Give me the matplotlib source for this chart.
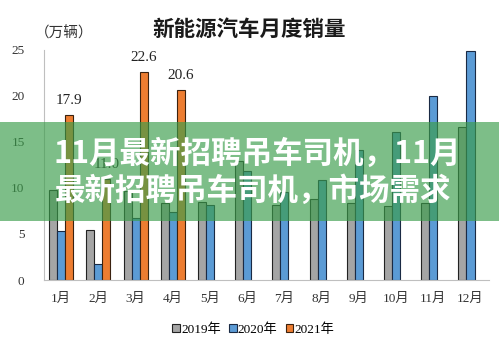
import matplotlib.pyplot as plt
import matplotlib.patches as mpatches
import numpy as np

plt.rcParams['font.family'] = ['Liberation Serif', 'Noto Sans CJK SC', 'DejaVu Sans']

months = ['1月', '2月', '3月', '4月', '5月', '6月', '7月', '8月', '9月', '10月', '11月', '12月']
sales_2019 = [9.8, 5.4, 9.7, 8.4, 8.5, 12.9, 8.1, 8.8, 8.4, 8.0, 8.4, 16.6]
sales_2020 = [5.3, 1.7, 6.7, 7.4, 8.2, 11.8, 9.6, 10.9, 14.1, 16.1, 20.0, 24.9]
sales_2021 = [17.9, 11.0, 22.6, 20.6]
series_names = ['2019年', '2020年', '2021年']
colors = ['#a5a5a5', '#5b9bd5', '#ed7d31']

fig = plt.figure(figsize=(4.99, 3.45), dpi=100)
ax = fig.add_axes([0.0882, 0.1884, 0.892, 0.6667])

x = np.arange(len(months))
w = 0.216
ax.bar(x - w, sales_2019, w, color=colors[0], edgecolor='#222222', linewidth=0.8, label=series_names[0])
ax.bar(x, sales_2020, w, color=colors[1], edgecolor='#1a2a44', linewidth=0.8, label=series_names[1])
x21 = np.arange(len(sales_2021))
ax.bar(x21 + w, sales_2021, w, color=colors[2], edgecolor='#3a2210', linewidth=0.8, label=series_names[2])
for xi, v in zip(x21, sales_2021):
    ax.text(xi + w, v + 0.9, f'{v:.1f}', ha='center', va='bottom', fontsize=11, color='#222222')

ax.set_xlim(-0.46, 11.5)
ax.set_ylim(0, 25)
ax.set_yticks([0, 5, 10, 15, 20, 25])
ax.set_xticks(x)
ax.set_xticklabels(months)
ax.tick_params(axis='both', length=0, labelsize=9.5, colors='#333333')
ax.tick_params(axis='y', pad=14)
ax.tick_params(axis='x', pad=9)
for s in ['top', 'right']:
    ax.spines[s].set_visible(False)
ax.spines['left'].set_color('#bfbfbf')
ax.spines['bottom'].set_color('#bfbfbf')

fig.text(0.5, 0.914, '新能源汽车月度销量', ha='center', va='center', fontsize=15.5,
         fontweight='bold', family=['Noto Sans CJK SC'], color='#1a1a1a')
fig.text(64 / 499, 0.902, '（万辆）', ha='center', va='center', fontsize=10.5,
         family=['Noto Sans CJK SC'], color='#333333')

ax.legend(loc='upper center', bbox_to_anchor=(0.47, -0.165), ncol=3, frameon=False,
          fontsize=9.5, handlelength=0.6, handleheight=0.6, handletextpad=0.1,
          columnspacing=0.6, borderaxespad=0)

# green banner with the headline on top of the chart
fig.patches.append(mpatches.Rectangle((0, 1 - 221 / 345), 1, 99 / 345, transform=fig.transFigure,
                                      facecolor='#3a9d4a', alpha=0.66, edgecolor='none', zorder=5))
fig.text(53 / 499, 1 - 154 / 345, '11月最新招聘吊车司机，11月', ha='left', va='center',
         fontsize=22, fontweight='bold', color='white', family=['Noto Sans CJK SC'], zorder=6)
fig.text(55 / 499, 1 - 191 / 345, '最新招聘吊车司机，市场需求', ha='left', va='center',
         fontsize=22, fontweight='bold', color='white', family=['Noto Sans CJK SC'], zorder=6)

fig.savefig('out.png', dpi=100)
